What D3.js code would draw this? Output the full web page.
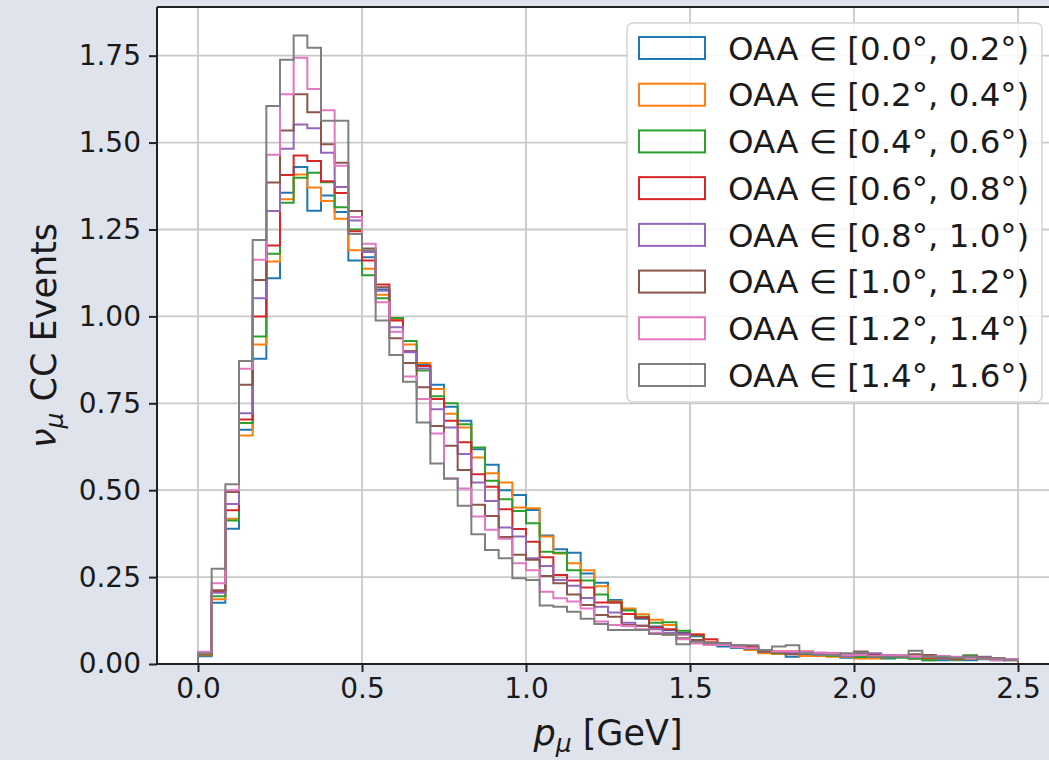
<!DOCTYPE html>
<html>
<head>
<meta charset="utf-8">
<script src="https://cdn.jsdelivr.net/npm/d3@7"></script>
<style>
  html, body { margin: 0; padding: 0; background: #dfe3ec; }
  svg { display: block; }
  text { font-family: "DejaVu Sans", sans-serif; fill: #1a1a1a; }
</style>
</head>
<body>
<svg id="chart" width="1049" height="760"></svg>
<script>
// Muon momentum spectra for eight off-axis-angle slices, 60 bins of 1/24 GeV from 0 to 2.5 GeV.
const binEdgesMin = 0.0;
const binEdgesMax = 2.5;
const nBins = 60;

const seriesLabels = [
  "OAA ∈ [0.0°, 0.2°)", "OAA ∈ [0.2°, 0.4°)", "OAA ∈ [0.4°, 0.6°)", "OAA ∈ [0.6°, 0.8°)",
  "OAA ∈ [0.8°, 1.0°)", "OAA ∈ [1.0°, 1.2°)", "OAA ∈ [1.2°, 1.4°)", "OAA ∈ [1.4°, 1.6°)"
];
const seriesColors = ["#1f77b4", "#ff7f0e", "#2ca02c", "#d62728", "#9467bd", "#8c564b", "#e377c2", "#7f7f7f"];

const oaa00_02 = [0.022,0.176,0.389,0.674,0.878,1.110,1.356,1.430,1.304,1.348,1.300,1.161,1.170,1.077,0.990,0.900,0.860,0.803,0.740,0.700,
  0.618,0.573,0.500,0.486,0.443,0.370,0.330,0.320,0.260,0.234,0.184,0.156,0.130,0.108,0.098,0.090,0.080,0.062,0.050,0.046,
  0.041,0.036,0.030,0.021,0.027,0.026,0.023,0.018,0.020,0.020,0.016,0.020,0.016,0.011,0.011,0.011,0.011,0.014,0.011,0.012];
const oaa02_04 = [0.025,0.186,0.418,0.657,0.919,1.158,1.337,1.408,1.371,1.332,1.281,1.190,1.137,1.062,0.990,0.919,0.866,0.791,0.720,0.680,
  0.594,0.549,0.522,0.450,0.448,0.367,0.318,0.290,0.270,0.224,0.180,0.160,0.143,0.127,0.112,0.085,0.085,0.064,0.055,0.050,
  0.040,0.031,0.029,0.035,0.023,0.023,0.021,0.021,0.016,0.016,0.021,0.021,0.016,0.016,0.016,0.013,0.016,0.016,0.015,0.013];
const oaa04_06 = [0.027,0.195,0.413,0.693,0.942,1.180,1.327,1.399,1.413,1.386,1.314,1.250,1.118,1.052,0.995,0.929,0.844,0.770,0.750,0.690,
  0.623,0.527,0.474,0.440,0.405,0.323,0.320,0.270,0.240,0.200,0.177,0.154,0.136,0.119,0.120,0.096,0.083,0.060,0.056,0.048,
  0.043,0.036,0.031,0.033,0.031,0.026,0.024,0.022,0.020,0.020,0.018,0.018,0.016,0.011,0.016,0.014,0.025,0.016,0.014,0.012];
const oaa06_08 = [0.028,0.207,0.442,0.703,1.000,1.204,1.407,1.463,1.447,1.389,1.355,1.245,1.161,1.092,0.988,0.899,0.857,0.762,0.700,0.638,
  0.546,0.510,0.445,0.388,0.352,0.307,0.256,0.240,0.220,0.177,0.177,0.144,0.134,0.105,0.100,0.087,0.085,0.071,0.060,0.052,
  0.050,0.038,0.036,0.036,0.036,0.028,0.031,0.026,0.031,0.026,0.026,0.021,0.021,0.018,0.018,0.016,0.021,0.016,0.016,0.014];
const oaa08_10 = [0.030,0.205,0.460,0.721,1.052,1.303,1.482,1.552,1.541,1.471,1.372,1.276,1.185,1.074,0.969,0.897,0.850,0.733,0.680,0.604,
  0.522,0.469,0.393,0.367,0.304,0.282,0.242,0.225,0.190,0.165,0.148,0.119,0.110,0.100,0.090,0.085,0.069,0.062,0.058,0.050,
  0.045,0.036,0.034,0.031,0.034,0.031,0.028,0.023,0.028,0.031,0.026,0.026,0.021,0.021,0.016,0.018,0.018,0.021,0.016,0.014];
const oaa10_12 = [0.030,0.212,0.495,0.803,1.105,1.385,1.535,1.639,1.587,1.495,1.442,1.303,1.195,1.084,0.937,0.866,0.796,0.685,0.628,0.558,
  0.458,0.426,0.365,0.314,0.300,0.253,0.232,0.200,0.170,0.141,0.136,0.112,0.110,0.088,0.084,0.074,0.069,0.060,0.060,0.050,
  0.045,0.036,0.034,0.028,0.031,0.026,0.026,0.029,0.036,0.021,0.021,0.021,0.028,0.026,0.018,0.018,0.021,0.019,0.016,0.011];
const oaa12_14 = [0.035,0.232,0.500,0.849,1.163,1.465,1.639,1.744,1.654,1.593,1.433,1.286,1.209,1.041,0.956,0.827,0.762,0.663,0.534,0.505,
  0.424,0.386,0.360,0.290,0.270,0.208,0.189,0.180,0.160,0.122,0.112,0.109,0.100,0.090,0.086,0.071,0.059,0.055,0.055,0.048,
  0.045,0.040,0.036,0.036,0.034,0.033,0.031,0.026,0.026,0.023,0.025,0.026,0.021,0.021,0.023,0.021,0.018,0.016,0.011,0.014];
const oaa14_16 = [0.030,0.274,0.517,0.872,1.220,1.605,1.738,1.808,1.773,1.563,1.563,1.237,1.190,0.988,0.889,0.812,0.695,0.577,0.533,0.455,
  0.373,0.328,0.304,0.247,0.242,0.168,0.165,0.150,0.130,0.115,0.098,0.098,0.098,0.086,0.086,0.057,0.064,0.060,0.060,0.055,
  0.054,0.040,0.050,0.054,0.031,0.026,0.026,0.031,0.033,0.021,0.021,0.021,0.038,0.021,0.021,0.018,0.021,0.016,0.016,0.011];

const seriesValues = [oaa00_02, oaa02_04, oaa04_06, oaa06_08, oaa08_10, oaa10_12, oaa12_14, oaa14_16];

const xTicks = [0.0, 0.5, 1.0, 1.5, 2.0, 2.5];
const yTicks = [0.00, 0.25, 0.50, 0.75, 1.00, 1.25, 1.50, 1.75];

// ---- layout ----
const svg = d3.select("#chart");
const plot = { left: 157, right: 1059, top: 7, bottom: 664 };

const x = d3.scaleLinear().domain([-0.125, 2.625]).range([plot.left, plot.right]);
const y = d3.scaleLinear().domain([0, 1.89]).range([plot.bottom, plot.top]);

const binWidth = (binEdgesMax - binEdgesMin) / nBins;
const edges = d3.range(nBins + 1).map(i => binEdgesMin + i * binWidth);

svg.append("rect").attr("width", 1049).attr("height", 760).attr("fill", "#dfe3ec");

svg.append("clipPath").attr("id", "plotclip")
  .append("rect").attr("x", plot.left).attr("y", plot.top)
  .attr("width", plot.right - plot.left).attr("height", plot.bottom - plot.top);

svg.append("rect")
  .attr("x", plot.left).attr("y", plot.top)
  .attr("width", plot.right - plot.left).attr("height", plot.bottom - plot.top)
  .attr("fill", "#ffffff");

// grid
const grid = svg.append("g").attr("clip-path", "url(#plotclip)");
grid.selectAll("line.gx").data(xTicks).join("line")
  .attr("x1", d => x(d)).attr("x2", d => x(d))
  .attr("y1", plot.top).attr("y2", plot.bottom)
  .attr("stroke", "#c9c9c9").attr("stroke-width", 1.8);
grid.selectAll("line.gy").data(yTicks).join("line")
  .attr("x1", plot.left).attr("x2", plot.right)
  .attr("y1", d => y(d)).attr("y2", d => y(d))
  .attr("stroke", "#c9c9c9").attr("stroke-width", 1.8);

// step outlines, open at the bottom like an unfilled histogram
function stepPath(vals) {
  const p = d3.path();
  p.moveTo(x(edges[0]), y(0));
  vals.forEach((v, i) => {
    p.lineTo(x(edges[i]), y(v));
    p.lineTo(x(edges[i + 1]), y(v));
  });
  p.lineTo(x(edges[nBins]), y(0));
  return p.toString();
}

const hist = svg.append("g").attr("clip-path", "url(#plotclip)");
seriesValues.forEach((vals, k) => {
  hist.append("path")
    .attr("d", stepPath(vals))
    .attr("fill", "none")
    .attr("stroke", seriesColors[k])
    .attr("stroke-width", 2)
    .attr("stroke-linejoin", "miter");
});

// axes
const tickFont = 28;
const xAxis = d3.axisBottom(x).tickValues(xTicks).tickFormat(d3.format(".1f")).tickSize(8).tickPadding(6);
const yAxis = d3.axisLeft(y).tickValues(yTicks).tickFormat(d3.format(".2f")).tickSize(8).tickPadding(8);

const gx = svg.append("g").attr("transform", `translate(0,${plot.bottom})`).call(xAxis);
const gy = svg.append("g").attr("transform", `translate(${plot.left},0)`).call(yAxis);
[gx, gy].forEach(g => {
  g.select(".domain").remove();
  g.selectAll(".tick line").attr("stroke", "#222").attr("stroke-width", 2);
  g.selectAll(".tick text").attr("font-size", tickFont).attr("fill", "#1a1a1a")
    .attr("font-family", "DejaVu Sans");
});

// spines
svg.append("line").attr("x1", plot.left).attr("x2", plot.left)
  .attr("y1", plot.top).attr("y2", plot.bottom).attr("stroke", "#222").attr("stroke-width", 2);
svg.append("line").attr("x1", plot.left).attr("x2", plot.right)
  .attr("y1", plot.bottom).attr("y2", plot.bottom).attr("stroke", "#222").attr("stroke-width", 2);
svg.append("line").attr("x1", plot.left).attr("x2", plot.right)
  .attr("y1", plot.top).attr("y2", plot.top).attr("stroke", "#222").attr("stroke-width", 2);

// axis labels
const xl = svg.append("text").attr("x", (plot.left + plot.right) / 2).attr("y", 745)
  .attr("text-anchor", "middle").attr("font-size", 35);
xl.append("tspan").attr("font-style", "italic").text("p");
xl.append("tspan").attr("font-style", "italic").attr("font-size", 25).attr("dy", 7).text("μ");
xl.append("tspan").attr("dy", -7).text(" [GeV]");

const yl = svg.append("text")
  .attr("transform", `translate(56,${(plot.top + plot.bottom) / 2}) rotate(-90)`)
  .attr("text-anchor", "middle").attr("font-size", 35);
yl.append("tspan").attr("font-style", "italic").text("ν");
yl.append("tspan").attr("font-style", "italic").attr("font-size", 25).attr("dy", 7).text("μ");
yl.append("tspan").attr("dy", -7).text(" CC Events");

// legend
const legend = svg.append("g");
legend.append("rect")
  .attr("x", 627).attr("y", 23).attr("width", 415).attr("height", 379)
  .attr("rx", 6).attr("ry", 6)
  .attr("fill", "#ffffff").attr("fill-opacity", 0.85)
  .attr("stroke", "#d4d4d4").attr("stroke-width", 1.5);

const rowY = d3.scaleLinear().domain([0, 7]).range([48, 375]);
seriesLabels.forEach((lab, k) => {
  const cy = rowY(k);
  legend.append("rect")
    .attr("x", 639).attr("y", cy - 11).attr("width", 66).attr("height", 22)
    .attr("fill", "none").attr("stroke", seriesColors[k]).attr("stroke-width", 2);
  legend.append("text")
    .attr("x", 728).attr("y", cy).attr("dy", "0.36em")
    .attr("font-size", 32.5).text(lab);
});
</script>
</body>
</html>
